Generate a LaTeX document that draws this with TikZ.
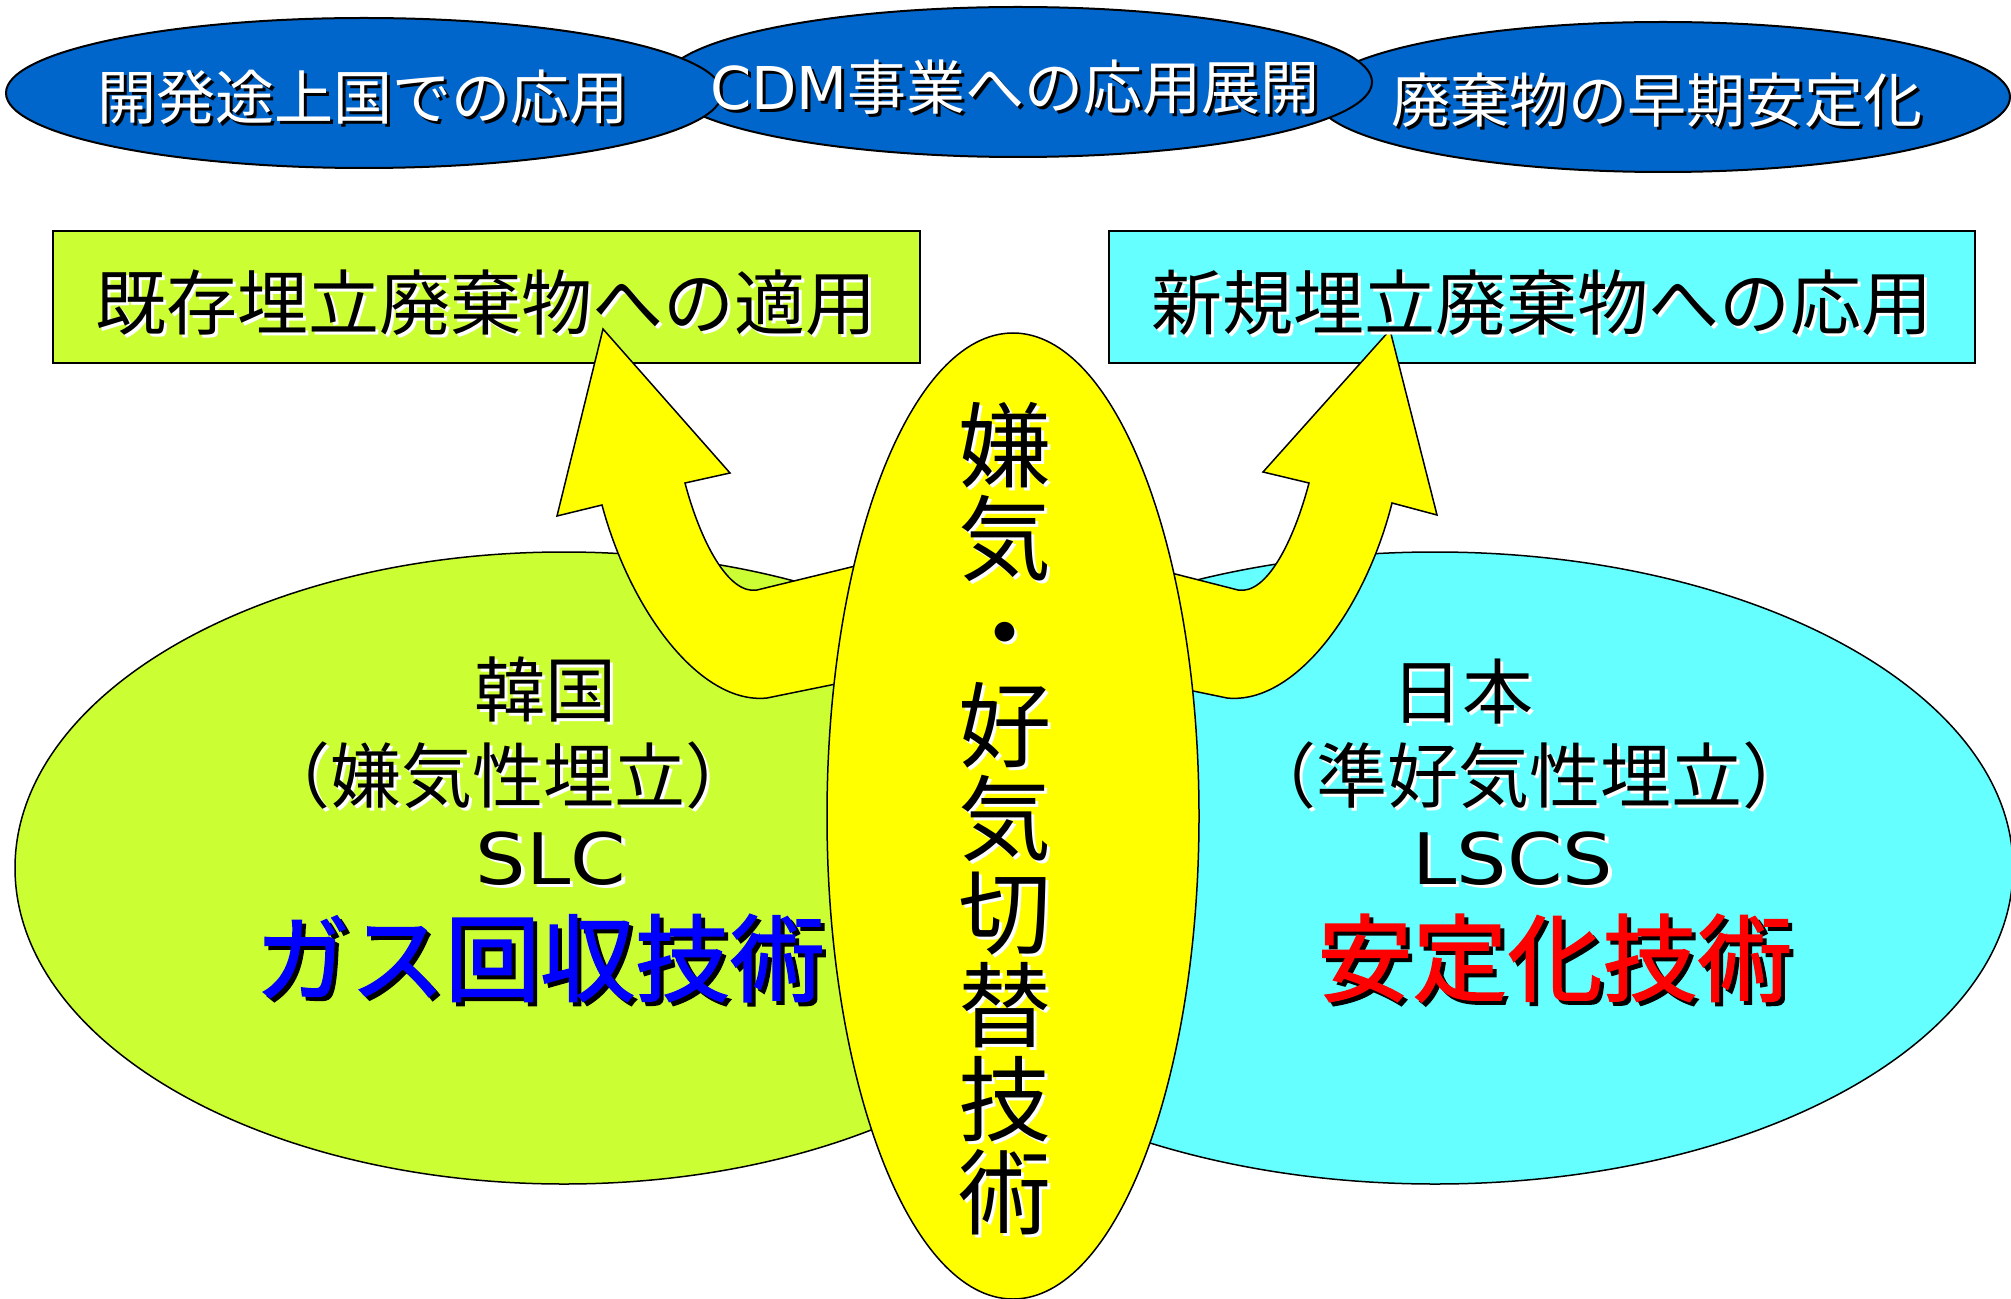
\documentclass[tikz,border=0pt]{standalone}
\usepackage{fontspec}
\setmainfont{Noto Sans CJK JP}
\newfontfamily\lat{DejaVu Sans}
\newfontfamily\jpmid{Noto Sans CJK JP}[FakeBold=1.6]
\usetikzlibrary{shapes.geometric}
\definecolor{mylime}{HTML}{CCFF33}
\definecolor{mycyan}{HTML}{66FFFF}
\definecolor{topblue}{HTML}{0066CC}
\definecolor{myyellow}{HTML}{FFFF00}
\definecolor{txtblue}{HTML}{0000FF}
\definecolor{txtred}{HTML}{FF0000}
\newcommand{\shd}[3]{\makebox[0pt][l]{\kern#1\raisebox{-#1}{\textcolor{#2}{#3}}}#3}
\tikzset{
  topell/.style={ellipse, draw=black, line width=1pt, fill=topblue, inner sep=0pt},
  bigell/.style={ellipse, draw=black, line width=0.75pt, inner sep=0pt},
  boxsty/.style={rectangle, draw=black, line width=0.75pt, inner sep=0pt},
  arrowsty/.style={draw=black, line width=0.75pt, fill=myyellow, line join=miter},
  wtxt/.style={text=white, inner sep=0pt, font=\fontsize{29.5}{30}\selectfont},
  btxt/.style={text=black, inner sep=0pt, font=\fontsize{35.5}{36}\selectfont},
  bigtxt/.style={inner sep=0pt, font=\fontsize{47.5}{48}\selectfont\jpmid},
}
\begin{document}
\begin{tikzpicture}[x=0.5pt,y=-0.5pt]
\fill[white] (0,0) rectangle (2011,1299);
\path[use as bounding box] (0,0) rectangle (2011,1299);
% big ellipses
\node[bigell, fill=mylime, minimum width=549pt, minimum height=316pt] (lell) at (564,868) {};
\node[bigell, fill=mycyan, minimum width=578pt, minimum height=316pt] (rell) at (1435,868) {};
% rectangles
\node[boxsty, fill=mylime, minimum width=433.5pt, minimum height=66pt] (lbox) at (486.5,297) {};
\node[boxsty, fill=mycyan, minimum width=433pt, minimum height=66pt] (rbox) at (1542,297) {};
% arrows
\draw[arrowsty] (603,329) -- (730,473) -- (685,483)
  .. controls (700,540) and (728,595) .. (757,590) -- (880,560) -- (880,675) -- (767,698)
  .. controls (700,705) and (630,610) .. (602,505) -- (557,516) -- cycle;
\draw[arrowsty] (1390,330) -- (1263,472) -- (1309,483)
  .. controls (1294,540) and (1267,595) .. (1238,590) -- (1140,565) -- (1140,680) -- (1227,698)
  .. controls (1295,705) and (1365,610) .. (1392,503) -- (1437,515) -- cycle;
% center ellipse
\node[bigell, fill=myyellow, minimum width=186pt, minimum height=483pt] (cell) at (1013,816) {};
% top ellipses
\node[topell, minimum width=347pt, minimum height=75pt] (e3) at (1663,97) {};
\node[topell, minimum width=354pt, minimum height=75pt] (e2) at (1018,82) {};
\node[topell, minimum width=358pt, minimum height=75pt] (e1) at (364,93) {};
% texts
\node[wtxt] (t1) at (363,99) {\shd{1.5pt}{black}{開発途上国での応用}};
\node[wtxt] (t2) at (1015,89) {\shd{1.5pt}{black}{{\lat CDM}事業への応用展開}};
\node[wtxt] (t3) at (1657,102) {\shd{1.5pt}{black}{廃棄物の早期安定化}};
\node[btxt] (r1t) at (486,304) {\shd{1.5pt}{white}{既存埋立廃棄物への適用}};
\node[btxt] (r2t) at (1542,304) {\shd{1.5pt}{white}{新規埋立廃棄物への応用}};
\node[btxt, align=center, font={\fontsize{46.5}{46.7}\selectfont\lineskiplimit=-50pt}] (vt) at (1005,820)
  {\shd{1.5pt}{white}{嫌}\\\shd{1.5pt}{white}{気}\\\shd{1.5pt}{white}{・}\\\shd{1.5pt}{white}{好}\\\shd{1.5pt}{white}{気}\\\shd{1.5pt}{white}{切}\\\shd{1.5pt}{white}{替}\\\shd{1.5pt}{white}{技}\\\shd{1.5pt}{white}{術}};
% left block
\node[btxt] (kr1) at (545,691) {\shd{1.5pt}{white}{韓国}};
\node[btxt] (kr2) at (508,777) {\shd{1.5pt}{white}{\kern-0.45em（嫌気性埋立）\kern-0.45em}};
\node[btxt] (kr3) at (551,860) {\scalebox{1.12}[1]{\shd{1.5pt}{white}{\lat SLC}}};
\node[bigtxt, text=txtblue] (kr4) at (540,960) {\shd{2pt}{black}{ガス回収技術}};
% right block
\node[btxt] (jp1) at (1462,693) {\shd{1.5pt}{white}{日本}};
\node[btxt] (jp2) at (1529,777) {\shd{1.5pt}{white}{\kern-0.45em（準好気性埋立）\kern-0.45em}};
\node[btxt] (jp3) at (1513,860) {\scalebox{1.12}[1]{\shd{1.5pt}{white}{\lat LSCS}}};
\node[bigtxt, text=txtred] (jp4) at (1555,960) {\shd{2pt}{black}{安定化技術}};
\end{tikzpicture}
\end{document}
